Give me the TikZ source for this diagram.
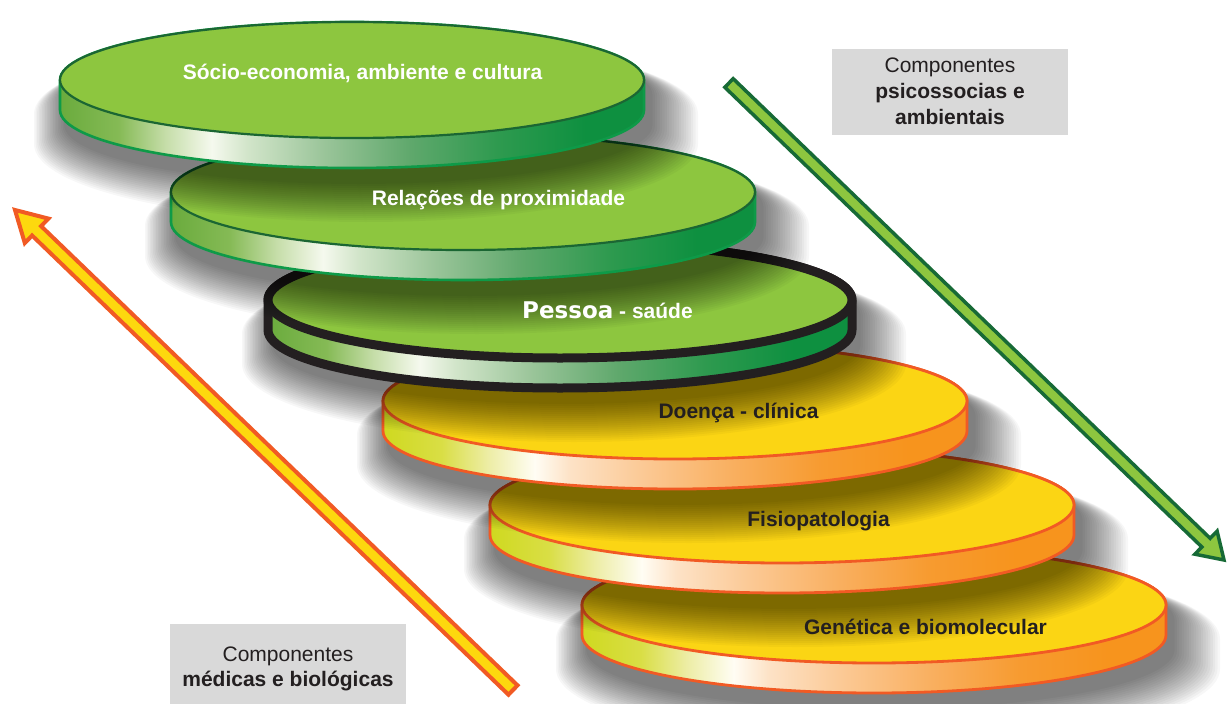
\documentclass[tikz,border=0pt]{standalone}
\usepackage{fontspec}
\setmainfont{Liberation Sans}
\newfontfamily\heavyfont{DejaVu Sans}
\usetikzlibrary{calc}

% palette
\definecolor{leaf}{HTML}{8DC63F}
\definecolor{leafedge}{HTML}{1B6633}
\definecolor{leafrim}{HTML}{0E9A48}
\definecolor{sun}{HTML}{FBD514}
\definecolor{sunedge}{HTML}{F15A24}
\definecolor{ink}{HTML}{231F20}
\definecolor{panel}{HTML}{D9D9D9}
\definecolor{arrowleaf}{HTML}{8DC63F}
\definecolor{arrowleafedge}{HTML}{176A36}
\definecolor{arrowsun}{HTML}{FDD80E}
\definecolor{arrowsunedge}{HTML}{F15A24}

% rim colours of the green slabs
\definecolor{gs0}{HTML}{6AAB3D}\definecolor{gs1}{HTML}{85BA55}
\definecolor{gs2}{HTML}{C5DDA8}\definecolor{gs3}{HTML}{F5F9EE}
\definecolor{gs4}{HTML}{D2E5CA}\definecolor{gs5}{HTML}{9BC59A}
\definecolor{gs6}{HTML}{5FA86C}\definecolor{gs7}{HTML}{2E9A4F}
\definecolor{gs8}{HTML}{0E9040}
% rim colours of the yellow slabs
\definecolor{ys0}{HTML}{CFD91F}\definecolor{ys1}{HTML}{D9DE45}
\definecolor{ys2}{HTML}{EDEDA5}\definecolor{ys3}{HTML}{FFFDF4}
\definecolor{ys4}{HTML}{FDE2C6}\definecolor{ys5}{HTML}{FBC893}
\definecolor{ys6}{HTML}{F9AF5F}\definecolor{ys7}{HTML}{F79B30}
\definecolor{ys8}{HTML}{F7941D}

\pgfdeclarehorizontalshading{leafside}{100bp}{color(0bp)=(gs0); color(25bp)=(gs0);
  color(30bp)=(gs1); color(34bp)=(gs2); color(38bp)=(gs3); color(41bp)=(gs4);
  color(47.5bp)=(gs5); color(55bp)=(gs6); color(62.5bp)=(gs7); color(70bp)=(gs8);
  color(100bp)=(gs8)}
\pgfdeclarehorizontalshading{sunside}{100bp}{color(0bp)=(ys0); color(25bp)=(ys0);
  color(30bp)=(ys1); color(34bp)=(ys2); color(38bp)=(ys3); color(41bp)=(ys4);
  color(47.5bp)=(ys5); color(55bp)=(ys6); color(62.5bp)=(ys7); color(70bp)=(ys8);
  color(100bp)=(ys8)}

% slab size: half width, half depth, thickness
\def\RX{292}
\def\RY{58}
\def\TH{30}

% soft shadow thrown down and to the right by a slab centred at (#1,#2)
\newcommand\castshadow[2]{%
  \foreach \k in {1,...,20}{%
    \pgfmathsetmacro\ex{2*\k}%
    \pgfmathsetmacro\sx{\RX+\ex}%
    \pgfmathsetmacro\sy{\RY+0.5*\ex}%
    \fill[black,opacity=0.033] ({#1+6+0.2*\ex-\sx},{#2+14+0.5*\ex})
      arc[start angle=180,end angle=360,x radius=\sx,y radius=\sy]
      -- ++(0,\TH)
      arc[start angle=0,end angle=180,x radius=\sx,y radius=\sy] -- cycle;
  }}

% slab: centre #1,#2; rim shading #3; face style #4; outline style #5; face edge style #6
\newcommand\slab[6]{%
  \shade[shading=#3] (#1-\RX,#2)
    arc[start angle=180,end angle=0,x radius=\RX,y radius=\RY]
    -- ++(0,\TH)
    arc[start angle=0,end angle=180,x radius=\RX,y radius=\RY] -- cycle;
  \draw[#5] (#1-\RX,#2)
    arc[start angle=180,end angle=360,x radius=\RX,y radius=\RY]
    -- ++(0,\TH)
    arc[start angle=0,end angle=180,x radius=\RX,y radius=\RY] -- cycle;
  \fill[#4] (#1,#2) ellipse[x radius=\RX,y radius=\RY];
  \draw[#6] (#1,#2) ellipse[x radius=\RX,y radius=\RY];
}

\tikzset{
  leafrimline/.style={draw=leafrim,line width=2.6pt,line join=round},
  leafedgeline/.style={draw=leafedge,line width=2.2pt},
  sunline/.style={draw=sunedge,line width=2.8pt,line join=round},
  heavyline/.style={draw=ink,line width=9pt,line join=round},
  leafface/.style={fill=leaf},
  sunface/.style={fill=sun},
  slablabel/.style={font=\bfseries\fontsize{21}{25}\selectfont,anchor=base,inner sep=0pt},
  panelbox/.style={fill=panel,text=ink,align=center,inner sep=0pt,
    minimum width=236pt,font=\fontsize{21}{26}\selectfont},
  sunarrow/.style={fill=arrowsun,draw=arrowsunedge,line width=4pt,line join=miter},
  leafarrow/.style={fill=arrowleaf,draw=arrowleafedge,line width=3.5pt,line join=miter},
}

\begin{document}
\begin{tikzpicture}[x=1pt,y=-1pt]
  \useasboundingbox (0,0) rectangle (1227,704);
  \clip (0,0) rectangle (1227,704);
  \fill[white] (0,0) rectangle (1227,704);

  % stack of slabs, lowest first
  \castshadow{874}{605}
  \slab{874}{605}{sunside}{sunface}{sunline}{sunline}
  \castshadow{782}{505}
  \slab{782}{505}{sunside}{sunface}{sunline}{sunline}
  \castshadow{675}{401}
  \slab{675}{401}{sunside}{sunface}{sunline}{sunline}
  \castshadow{560}{300}
  \slab{560}{300}{leafside}{leafface}{heavyline}{heavyline}
  \castshadow{463}{192}
  \slab{463}{192}{leafside}{leafface}{leafrimline}{leafedgeline}
  \castshadow{352}{80}
  \slab{352}{80}{leafside}{leafface}{leafrimline}{leafedgeline}

  % broad arrows
  \coordinate (sunTail) at (513,690);
  \coordinate (sunTip) at (15,210);
  \coordinate (sunBase) at ($(sunTip)!30pt!(sunTail)$);
  \draw[sunarrow] ($(sunTail)!6.5pt!90:(sunTip)$) -- ($(sunBase)!6.5pt!90:(sunTip)$)
    -- ($(sunBase)!17pt!90:(sunTip)$) -- (sunTip) -- ($(sunBase)!17pt!-90:(sunTip)$)
    -- ($(sunBase)!6.5pt!-90:(sunTip)$) -- ($(sunTail)!6.5pt!-90:(sunTip)$) -- cycle;

  \coordinate (leafTail) at (729,83);
  \coordinate (leafTip) at (1224,560);
  \coordinate (leafBase) at ($(leafTip)!25pt!(leafTail)$);
  \draw[leafarrow] ($(leafTail)!6pt!90:(leafTip)$) -- ($(leafBase)!6pt!90:(leafTip)$)
    -- ($(leafBase)!16pt!90:(leafTip)$) -- (leafTip) -- ($(leafBase)!16pt!-90:(leafTip)$)
    -- ($(leafBase)!6pt!-90:(leafTip)$) -- ($(leafTail)!6pt!-90:(leafTip)$) -- cycle;

  % captions
  \node[panelbox,minimum height=86pt] (psico) at (950,91.6)
    {Componentes\\\textbf{psicossocias e}\\\textbf{ambientais}};
  \node[panelbox,minimum height=90pt,font=\fontsize{21}{24.5}\selectfont] (medic) at (288,669)
    {Componentes\\\textbf{médicas e biológicas}};

  % slab labels
  \node[slablabel,text=white] (socio) at (362.5,79.5) {Sócio-economia, ambiente e cultura};
  \node[slablabel,text=white] (prox) at (498.5,205) {Relações de proximidade};
  \node[slablabel,text=white] (pessoa) at (607.5,318)
    {{\heavyfont\bfseries\fontsize{23}{25}\selectfont Pessoa} - saúde};
  \node[slablabel,text=ink] (doenca) at (738.5,418) {Doença - clínica};
  \node[slablabel,text=ink] (fisio) at (818.5,526) {Fisiopatologia};
  \node[slablabel,text=ink] (genet) at (925.5,634) {Genética e biomolecular};
\end{tikzpicture}
\end{document}
